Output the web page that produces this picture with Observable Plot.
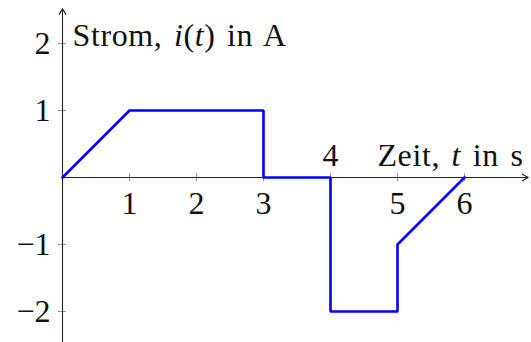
<!DOCTYPE html>
<html><head><meta charset="utf-8">
<script src="https://cdn.jsdelivr.net/npm/d3@7"></script>
<script src="https://cdn.jsdelivr.net/npm/@observablehq/plot@0.6"></script>
<style>body{margin:0;background:#fff}</style>
</head><body><div id="chart"></div>
<script>
// Current waveform i(t): breakpoints of the piecewise-linear signal
const timeS = [0, 1, 3, 3, 4, 4, 5, 5, 6];
const currentA = [0, 1, 1, 0, 0, -2, -2, -1, 0];
// Axis ticks
const xTicks = [1, 2, 3, 4, 5, 6];
const xTicksLabelAbove = [4];
const yTicks = [-2, -1, 1, 2];
// Axis titles (*x* marks an italic symbol)
const yTitle = "Strom, *i*(*t*) in A";
const xTitle = "Zeit, *t* in s";

const signal = timeS.map((t, k) => ({t, i: currentA[k]}));
const fmt = d => (d < 0 ? "\u2212" + Math.abs(d) : String(d));
const font = "Liberation Serif";
const fs = 32;

const chart = Plot.plot({
  width: 531,
  height: 342,
  margin: 0,
  style: {background: "#fff", fontFamily: font},
  x: {domain: [-62 / 67, 469 / 67], axis: null},
  y: {domain: [-165 / 67, 177 / 67], axis: null},
  marks: [
    // tick marks crossing the axes
    Plot.ruleX(xTicks, {x: d => d, y1: -0.06, y2: 0.06, stroke: "#999", strokeWidth: 1}),
    Plot.ruleY(yTicks, {y: d => d, x1: -0.06, x2: 0.06, stroke: "#999", strokeWidth: 1}),
    // axes with arrow heads
    Plot.arrow([{x1: 0, y1: 0, x2: 6.95, y2: 0}], {x1: "x1", y1: "y1", x2: "x2", y2: "y2", stroke: "#222", strokeWidth: 1.1, headLength: 9, bend: 0}),
    Plot.arrow([{x1: 0, y1: -2.47, x2: 0, y2: 2.52}], {x1: "x1", y1: "y1", x2: "x2", y2: "y2", stroke: "#222", strokeWidth: 1.1, headLength: 9, bend: 0}),
    // signal
    Plot.line(signal, {x: "t", y: "i", stroke: "#0000ff", strokeWidth: 2.6, strokeLinejoin: "miter"}),
    // tick labels
    Plot.text(xTicks.filter(d => !xTicksLabelAbove.includes(d)), {x: d => d, y: 0, text: fmt, dy: 26, fontSize: fs, fill: "#111"}),
    Plot.text(xTicksLabelAbove, {x: d => d, y: 0, text: fmt, dy: -22, fontSize: fs, fill: "#111"}),
    Plot.text(yTicks, {x: 0, y: d => d, text: fmt, dx: -12, textAnchor: "end", fontSize: fs, fill: "#111"}),
    // axis titles
    Plot.text([yTitle], {x: 0, y: 2, text: d => d, dx: 10, dy: -8, textAnchor: "start", fontSize: fs, fill: "#111"}),
    Plot.text([xTitle], {x: 6.88, y: 0, text: d => d, dy: -22, textAnchor: "end", fontSize: fs, fill: "#111"})
  ]
});

// turn *x* markers into italic tspans; titles get wider spacing
chart.querySelectorAll("text").forEach(el => {
  const s = el.textContent;
  if (!s.includes("*")) return;
  el.textContent = "";
  el.setAttribute("letter-spacing", "0.6");
  el.setAttribute("word-spacing", "3");
  s.split(/(\*[^*]+\*)/).forEach(part => {
    if (!part) return;
    const ts = document.createElementNS("http://www.w3.org/2000/svg", "tspan");
    if (part.startsWith("*")) { ts.setAttribute("font-style", "italic"); part = part.slice(1, -1); }
    ts.textContent = part;
    el.appendChild(ts);
  });
});
document.getElementById("chart").appendChild(chart);
</script>
</body></html>
